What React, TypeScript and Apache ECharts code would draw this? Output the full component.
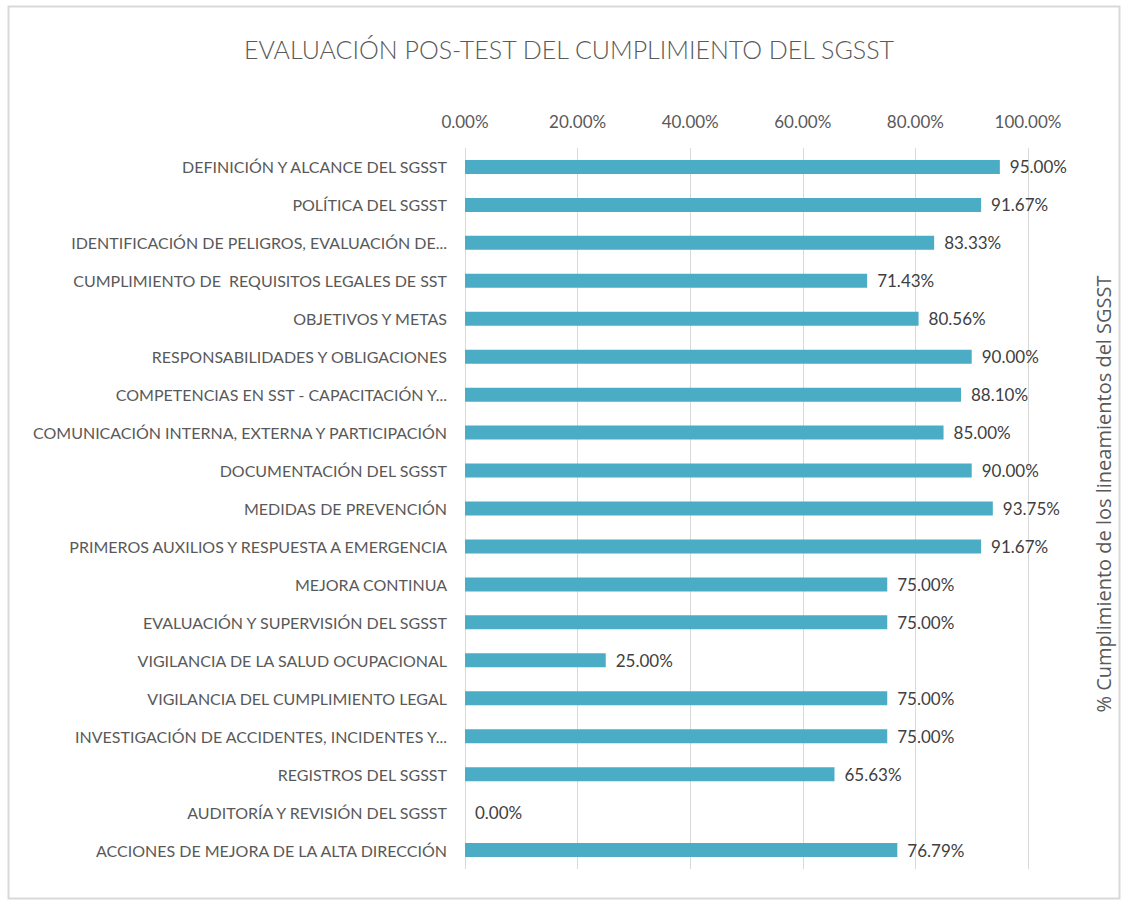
import React, { useEffect, useRef } from "react";
import * as echarts from "echarts";

const categories = [
  "DEFINICIÓN Y ALCANCE DEL SGSST",
  "POLÍTICA DEL SGSST",
  "IDENTIFICACIÓN DE PELIGROS, EVALUACIÓN DE...",
  "CUMPLIMIENTO DE  REQUISITOS LEGALES DE SST",
  "OBJETIVOS Y METAS",
  "RESPONSABILIDADES Y OBLIGACIONES",
  "COMPETENCIAS EN SST - CAPACITACIÓN Y...",
  "COMUNICACIÓN INTERNA, EXTERNA Y PARTICIPACIÓN",
  "DOCUMENTACIÓN DEL SGSST",
  "MEDIDAS DE PREVENCIÓN",
  "PRIMEROS AUXILIOS Y RESPUESTA A EMERGENCIA",
  "MEJORA CONTINUA",
  "EVALUACIÓN Y SUPERVISIÓN DEL SGSST",
  "VIGILANCIA DE LA SALUD OCUPACIONAL",
  "VIGILANCIA DEL CUMPLIMIENTO LEGAL",
  "INVESTIGACIÓN DE ACCIDENTES, INCIDENTES Y...",
  "REGISTROS DEL SGSST",
  "AUDITORÍA Y REVISIÓN DEL SGSST",
  "ACCIONES DE MEJORA DE LA ALTA DIRECCIÓN",
];

const values = [95.0, 91.67, 83.33, 71.43, 80.56, 90.0, 88.1, 85.0, 90.0, 93.75, 91.67, 75.0, 75.0, 25.0, 75.0, 75.0, 65.63, 0.0, 76.79];

const titleText = "EVALUACIÓN POS-TEST DEL CUMPLIMIENTO DEL SGSST";
const axisName = "% Cumplimiento de los lineamientos del SGSST";

const FONT = "Lato, 'Open Sans', sans-serif";

export default function App() {
  const ref = useRef<HTMLDivElement>(null);
  useEffect(() => {
    if (!ref.current) return;
    const chart = echarts.init(ref.current, undefined, { renderer: "svg" });
    chart.setOption({
      animation: false,
      backgroundColor: "#ffffff",
      textStyle: { fontFamily: FONT },
      title: {
        text: titleText,
        left: 564,
        top: 31,
        textAlign: "center",
        textStyle: { fontFamily: FONT, fontSize: 25, fontWeight: 300, color: "#595959" },
      },
      graphic: [
        {
          type: "rect",
          shape: { x: 8.5, y: 6.5, width: 1111, height: 892 },
          style: { fill: "none", stroke: "#d9d9d9", lineWidth: 2 },
          silent: true,
        },
        {
          type: "text",
          x: 1103,
          y: 494,
          rotation: Math.PI / 2,
          style: {
            text: axisName,
            fill: "#595959",
            font: "20px 'Open Sans', sans-serif",
            align: "center",
            verticalAlign: "middle",
          },
        },
      ],
      grid: { left: 465, right: 97, top: 148, bottom: 31, containLabel: false },
      xAxis: {
        type: "value",
        position: "top",
        min: 0,
        max: 100,
        interval: 20,
        axisLine: { show: false },
        axisTick: { show: false },
        splitLine: { show: true, lineStyle: { color: "#d9d9d9", width: 1 } },
        axisLabel: {
          margin: 18,
          color: "#595959",
          fontSize: 17,
          fontFamily: FONT,
          formatter: (v: number) => v.toFixed(2) + "%",
        },
      },
      yAxis: {
        type: "category",
        inverse: true,
        data: categories,
        axisLine: { show: false },
        axisTick: { show: false },
        axisLabel: { margin: 18, color: "#595959", fontSize: 16, fontFamily: FONT },
      },
      series: [
        {
          type: "bar",
          data: values,
          barWidth: 14,
          itemStyle: { color: "#4BACC6" },
          label: {
            show: true,
            position: "right",
            distance: 10,
            color: "#404040",
            fontSize: 17,
            fontFamily: FONT,
            formatter: (p: any) => Number(p.value).toFixed(2) + "%",
          },
        },
      ],
    });
    return () => chart.dispose();
  }, []);
  return <div ref={ref} style={{ position: "fixed", left: 0, top: 0, width: 1125, height: 900 }} />;
}
